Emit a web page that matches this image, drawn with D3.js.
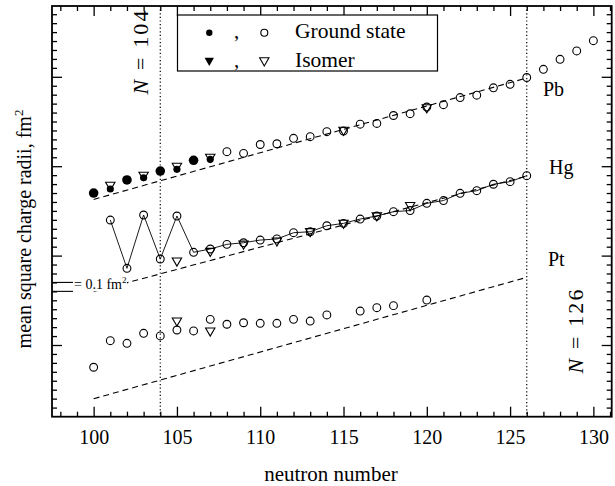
<!DOCTYPE html>
<html>
<head>
<meta charset="utf-8">
<script src="https://cdn.jsdelivr.net/npm/d3@7"></script>
<style>
  body { margin: 0; background: #fff; }
  svg { display: block; font-family: "Liberation Serif", "Times New Roman", serif; }
</style>
</head>
<body>
<div class="canvas"></div>
<script>
/////////////////////////////////////////////////////
//////////// data ///////////////
/////////////////////////////////////////////////////

// Pb ground states, filled (N = 100..107) and open (N = 108..130)
const pbFilledN = [100, 101, 102, 103, 104, 105, 106, 107];
const pbFilledR = [2.700, 2.745, 2.846, 2.871, 2.946, 2.965, 3.066, 3.077];
const pbOpenN = [108, 109, 110, 111, 112, 113, 114, 115, 116, 117, 118, 119,
                 120, 121, 122, 123, 124, 125, 126, 127, 128, 129, 130];
const pbOpenR = [3.162, 3.144, 3.243, 3.251, 3.312, 3.330, 3.386, 3.394, 3.470, 3.478, 3.567, 3.587,
                 3.662, 3.688, 3.768, 3.794, 3.877, 3.916, 3.992, 4.084, 4.196, 4.289, 4.404];
// Pb isomers
const pbIsoN = [101, 103, 105, 107, 115, 120];
const pbIsoR = [2.790, 2.902, 3.002, 3.103, 3.405, 3.657];

// Hg ground states and isomers
const hgN = [101, 102, 103, 104, 105, 106, 107, 108, 109, 110, 111, 112, 113,
             114, 115, 116, 117, 118, 119, 120, 121, 122, 123, 124, 125, 126];
const hgR = [2.398, 1.858, 2.454, 1.962, 2.443, 2.037, 2.074, 2.126, 2.144, 2.174, 2.186, 2.256, 2.267,
             2.334, 2.361, 2.409, 2.443, 2.491, 2.504, 2.585, 2.616, 2.697, 2.726, 2.798, 2.827, 2.894];
const hgIsoN = [105, 107, 109, 111, 113, 115, 117, 119];
const hgIsoR = [1.943, 2.051, 2.132, 2.167, 2.272, 2.366, 2.448, 2.563];

// Pt ground states and isomers
const ptN = [100, 101, 102, 103, 104, 105, 106, 107, 108, 109, 110, 111, 112, 113, 114, 116, 117, 118, 120];
const ptR = [0.751, 1.048, 1.019, 1.131, 1.101, 1.168, 1.157, 1.287, 1.232, 1.249, 1.243, 1.243,
             1.287, 1.268, 1.336, 1.380, 1.417, 1.440, 1.503];
const ptIsoN = [105, 107];
const ptIsoR = [1.272, 1.160];

// dashed reference lines (start / end at N = 100 and 126)
const lineN = [100, 126];
const pbLine = [2.628, 3.987];
const hgLine = [1.597, 2.890];
const ptLine = [0.399, 1.757];

// magic numbers marked by dotted lines
const magicN = [104, 126];

// x tick labels
const xMajor = [100, 105, 110, 115, 120, 125, 130];

/////////////////////////////////////////////////////
///////////////// chart set up //////////////////////
/////////////////////////////////////////////////////

const dims = { width: 615, height: 486 };
const plot = { left: 52, right: 611.7, top: 6, bottom: 416.7 };

const svg = d3.select('.canvas')
  .append('svg')
  .attr('width', dims.width)
  .attr('height', dims.height);

const x = d3.scaleLinear().domain([97.5, 131.1]).range([plot.left, plot.right]);
const y = d3.scaleLinear().domain([0.198, 4.792]).range([plot.bottom, plot.top]);

const xMinor = d3.range(98, 132).filter(n => n % 5 !== 0 && x(n) < plot.right - 1);
const yMajor = [1, 2, 3, 4];
const yMinor = d3.range(3, 48).map(i => i / 10).filter(v => Math.round(v * 10) % 10 !== 0);

// helper: draw one axis set (major + minor ticks, inward)
const drawAxis = (axisFn, pos, transform, major, minor, labels) => {
  const g = svg.append('g').attr('transform', transform);
  g.call(axisFn(pos).tickValues(major).tickSize(-10).tickPadding(13)
    .tickFormat(labels ? d3.format('d') : ''));
  g.append('g').call(axisFn(pos).tickValues(minor).tickSize(-5).tickFormat(''));
  g.selectAll('.domain').remove();
  g.selectAll('line').attr('stroke', '#000').attr('stroke-width', 1.3);
  g.selectAll('text').attr('fill', '#000').attr('font-size', 20)
    .attr('font-family', '"Liberation Serif", "Times New Roman", serif');
};

drawAxis(d3.axisBottom, x, `translate(0,${plot.bottom})`, xMajor, xMinor, true);
drawAxis(d3.axisTop, x, `translate(0,${plot.top})`, xMajor, xMinor, false);
drawAxis(d3.axisLeft, y, `translate(${plot.left},0)`, yMajor, yMinor, false);
drawAxis(d3.axisRight, y, `translate(${plot.right},0)`, yMajor, yMinor, false);

// frame
svg.append('rect')
  .attr('x', plot.left).attr('y', plot.top)
  .attr('width', plot.right - plot.left).attr('height', plot.bottom - plot.top)
  .attr('fill', 'none').attr('stroke', '#000').attr('stroke-width', 1.8);

/////////////////////////////////////////////////////
//////////////// lines behind marks /////////////////
/////////////////////////////////////////////////////

const line = d3.line().x(d => x(d[0])).y(d => y(d[1]));

[pbLine, hgLine, ptLine].forEach(vals => {
  svg.append('path')
    .attr('d', line(lineN.map((n, i) => [n, vals[i]])))
    .attr('fill', 'none').attr('stroke', '#000')
    .attr('stroke-width', 1.1).attr('stroke-dasharray', '6,4');
});

// dotted verticals at N = 104 and N = 126
svg.selectAll('.magic')
  .data(magicN)
  .enter().append('line')
  .attr('x1', d => x(d)).attr('x2', d => x(d))
  .attr('y1', plot.top).attr('y2', plot.bottom)
  .attr('stroke', '#000').attr('stroke-width', 1.2)
  .attr('stroke-dasharray', '1.2,2.4');

// solid line joining the Hg ground states
svg.append('path')
  .attr('d', line(hgN.map((n, i) => [n, hgR[i]])))
  .attr('fill', 'none').attr('stroke', '#000').attr('stroke-width', 0.9);

// scale bar "= 0.1 fm²"
[1.6, 1.7].forEach(v => {
  svg.append('line')
    .attr('x1', plot.left).attr('x2', plot.left + 21)
    .attr('y1', y(v)).attr('y2', y(v))
    .attr('stroke', '#000').attr('stroke-width', 1.1);
});
svg.append('rect')
  .attr('x', plot.left + 21).attr('y', y(1.7) - 6)
  .attr('width', 54).attr('height', 15).attr('fill', '#fff');
const barLabel = svg.append('text')
  .attr('x', plot.left + 22).attr('y', y(1.6) - 2)
  .attr('font-size', 14).attr('fill', '#000');
barLabel.append('tspan').text('= 0.1 fm');
barLabel.append('tspan').attr('dy', -6).attr('font-size', 9).text('2');

/////////////////////////////////////////////////////
//////////////////// markers ////////////////////////
/////////////////////////////////////////////////////

const tri = d3.symbol().type(d3.symbolTriangle).size(38);

const openTriangles = (ns, vals) => {
  svg.append('g').selectAll('path')
    .data(ns.map((n, i) => [n, vals[i]]))
    .enter().append('path')
    .attr('d', tri)
    .attr('transform', d => `translate(${x(d[0])},${y(d[1])}) rotate(180)`)
    .attr('fill', 'none').attr('stroke', '#000').attr('stroke-width', 1.1);
};

const openCircles = (ns, vals) => {
  svg.append('g').selectAll('circle')
    .data(ns.map((n, i) => [n, vals[i]]))
    .enter().append('circle')
    .attr('cx', d => x(d[0])).attr('cy', d => y(d[1]))
    .attr('r', 3.9)
    .attr('fill', 'none').attr('stroke', '#000').attr('stroke-width', 1.1);
};

openTriangles(pbIsoN, pbIsoR);
openTriangles(hgIsoN, hgIsoR);
openTriangles(ptIsoN, ptIsoR);

openCircles(pbOpenN, pbOpenR);
openCircles(hgN, hgR);
openCircles(ptN, ptR);

// filled Pb ground states (odd N drawn a bit smaller)
svg.append('g').selectAll('circle')
  .data(pbFilledN.map((n, i) => [n, pbFilledR[i]]))
  .enter().append('circle')
  .attr('cx', d => x(d[0])).attr('cy', d => y(d[1]))
  .attr('r', d => d[0] % 2 ? 3.6 : 4.8)
  .attr('fill', '#000');

/////////////////////////////////////////////////////
///////////////// text + legend /////////////////////
/////////////////////////////////////////////////////

// chain labels
[['Pb', 543, 96], ['Hg', 549, 174], ['Pt', 548, 266]].forEach(l => {
  svg.append('text').attr('x', l[1]).attr('y', l[2])
    .attr('font-size', 20).attr('fill', '#000').text(l[0]);
});

// rotated N = ... labels
const magicLabel = (num, bx, cy) => {
  const t = svg.append('text')
    .attr('transform', `translate(${bx},${cy}) rotate(-90)`)
    .attr('text-anchor', 'middle')
    .attr('font-size', 22).attr('fill', '#000')
    .attr('textLength', 84);
  t.append('tspan').attr('font-style', 'italic').text('N');
  t.append('tspan').text(` = ${num}`);
};
magicLabel(104, 148, 52.5);
magicLabel(126, 583, 331.5);

// axis titles
svg.append('text')
  .attr('x', 331).attr('y', 481)
  .attr('text-anchor', 'middle').attr('font-size', 21).attr('fill', '#000')
  .text('neutron number');

const yTitle = svg.append('text')
  .attr('transform', 'translate(31,229) rotate(-90)')
  .attr('text-anchor', 'middle').attr('font-size', 20).attr('fill', '#000');
yTitle.append('tspan').text('mean square charge radii, fm');
yTitle.append('tspan').attr('dy', -8).attr('font-size', 13).text('2');

// legend
const legend = svg.append('g');
legend.append('rect')
  .attr('x', 177.5).attr('y', 15).attr('width', 260).attr('height', 56)
  .attr('fill', '#fff').attr('stroke', '#000').attr('stroke-width', 1.2);

const rows = [
  { label: 'Ground state', cy: 32.7, base: 37.5 },
  { label: 'Isomer', cy: 60.5, base: 66.5 }
];
rows.forEach((r, i) => {
  if (i === 0) {
    legend.append('circle').attr('cx', 209.3).attr('cy', r.cy).attr('r', 3.2).attr('fill', '#000');
    legend.append('circle').attr('cx', 264.3).attr('cy', r.cy).attr('r', 3.5)
      .attr('fill', 'none').attr('stroke', '#000').attr('stroke-width', 1.1);
  } else {
    legend.append('path').attr('d', tri)
      .attr('transform', `translate(209.3,${r.cy}) rotate(180)`).attr('fill', '#000');
    legend.append('path').attr('d', tri)
      .attr('transform', `translate(264.3,${r.cy}) rotate(180)`)
      .attr('fill', 'none').attr('stroke', '#000').attr('stroke-width', 1.1);
  }
  legend.append('text').attr('x', 234).attr('y', r.base)
    .attr('font-size', 21).attr('fill', '#000').text(',');
  legend.append('text').attr('x', 295).attr('y', r.base)
    .attr('font-size', 21.5).attr('fill', '#000').text(r.label);
});
</script>
</body>
</html>
